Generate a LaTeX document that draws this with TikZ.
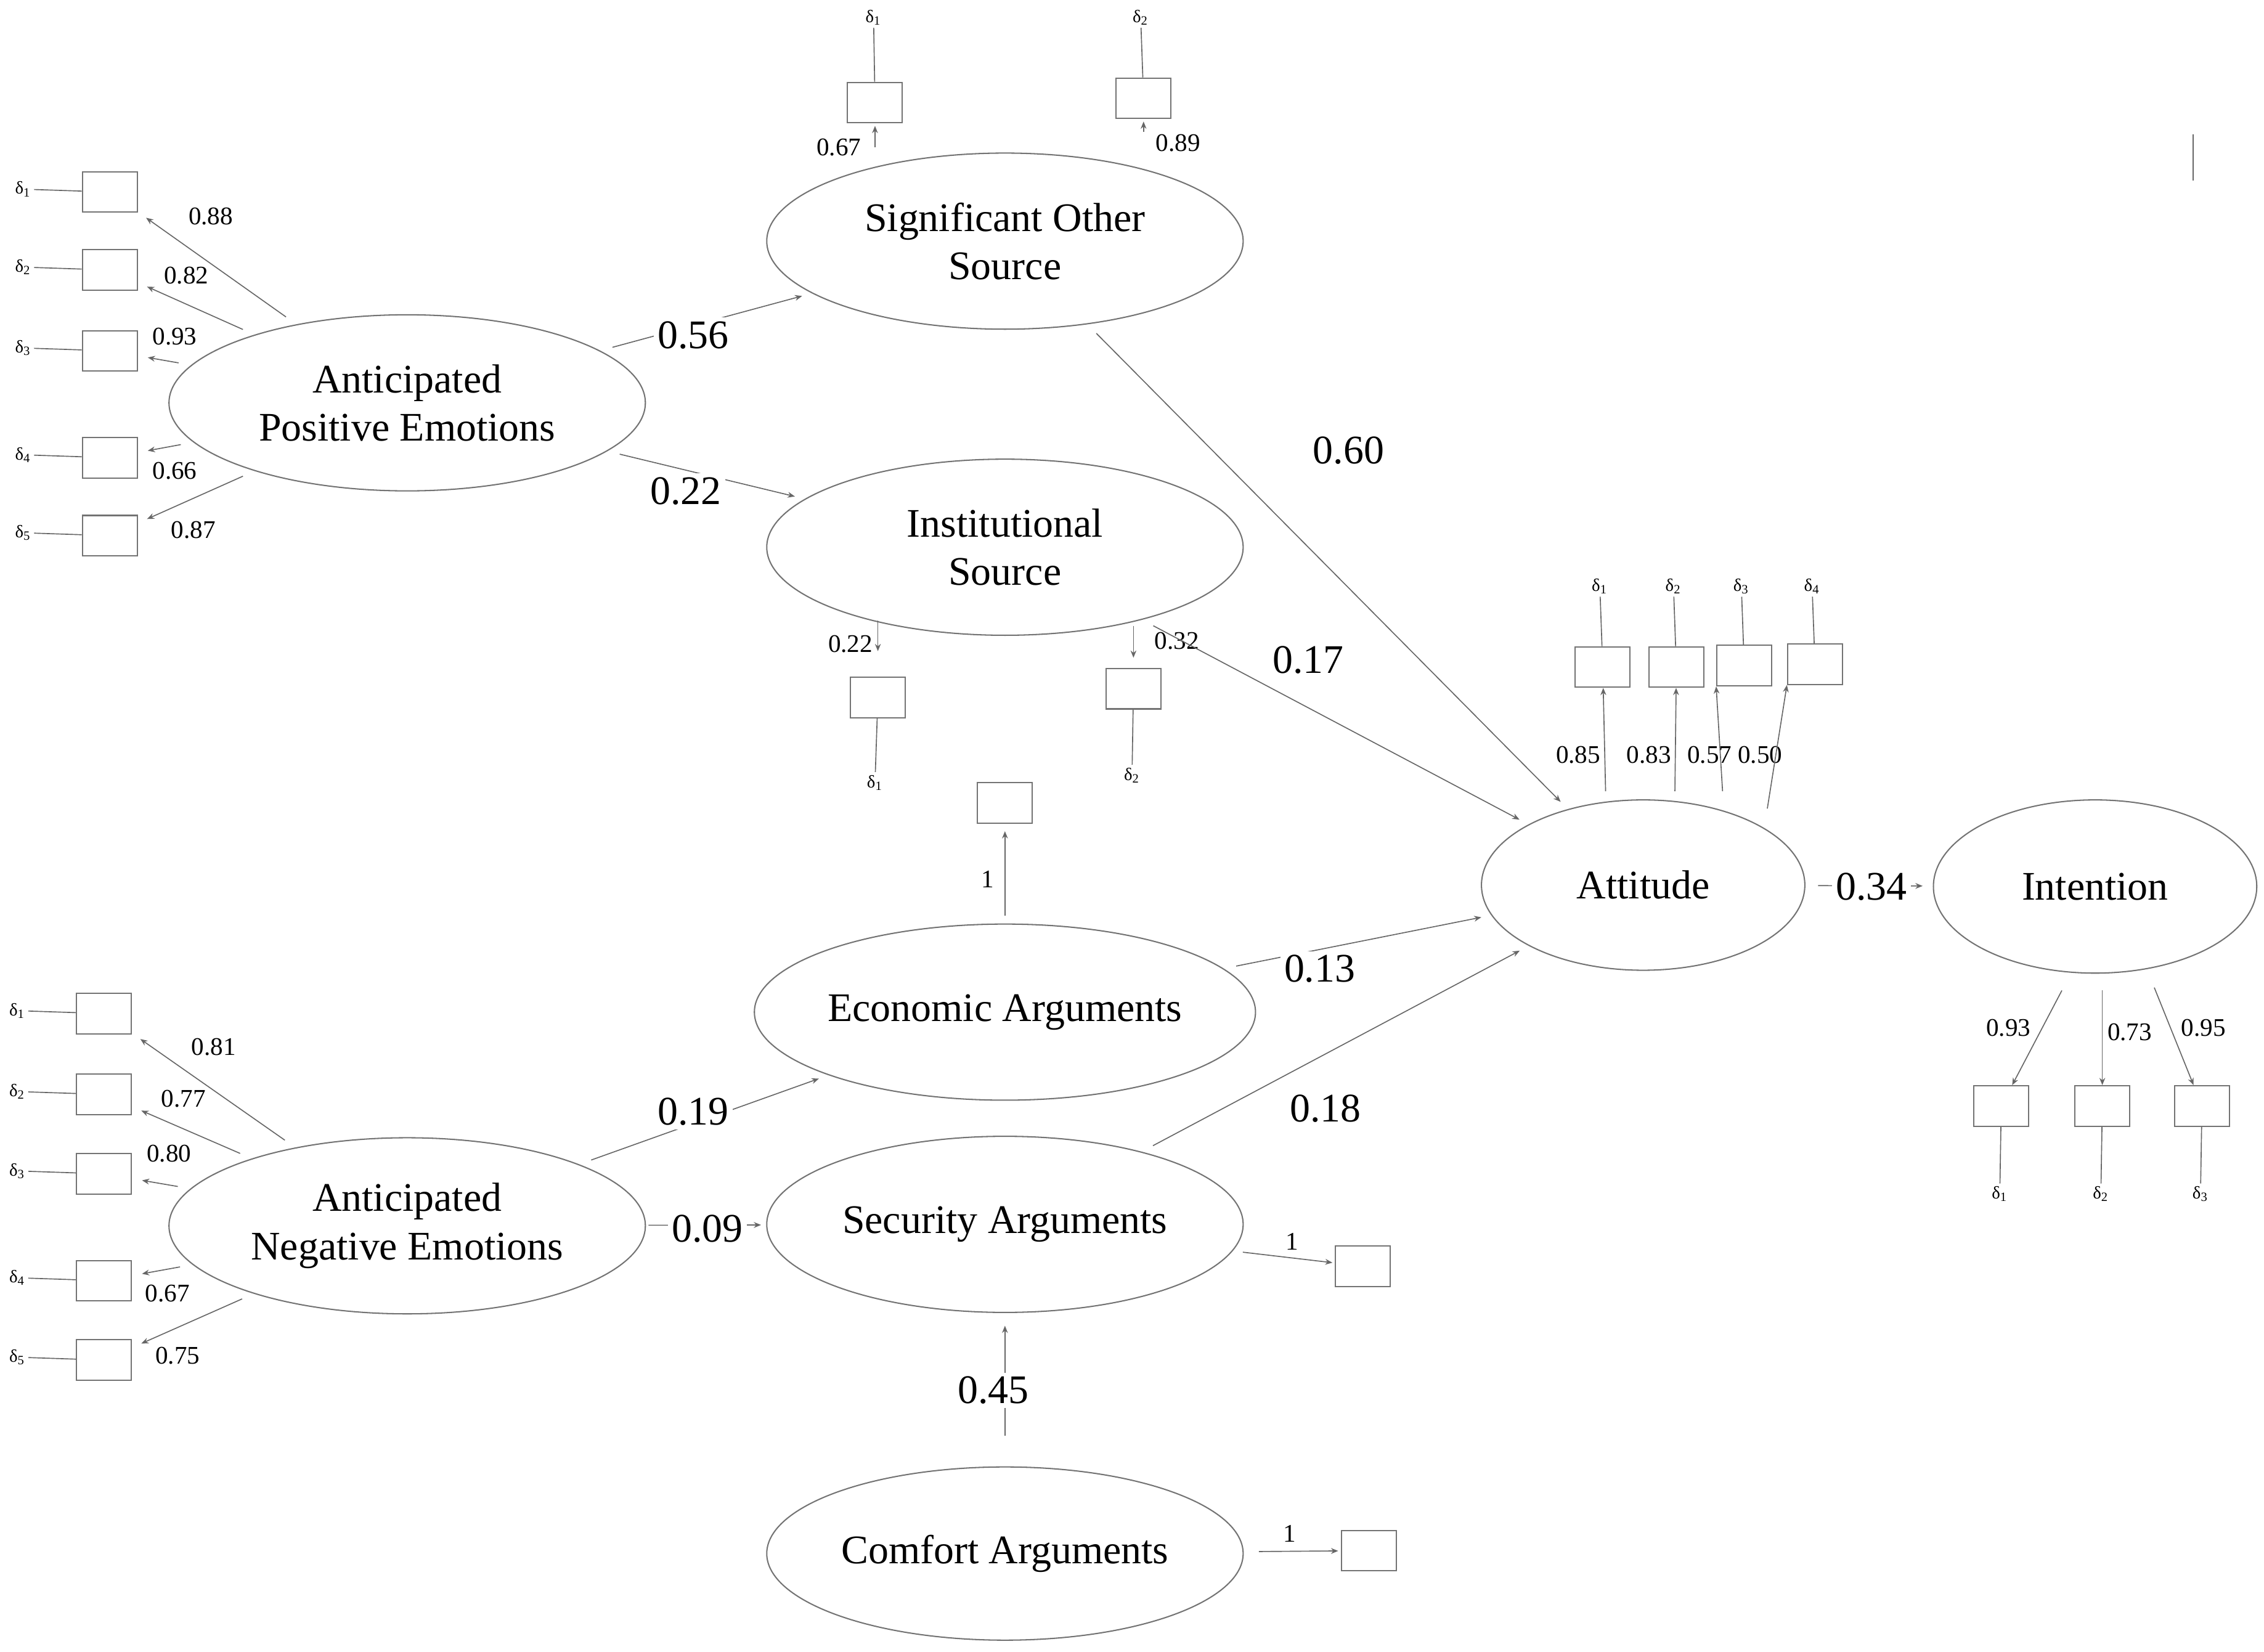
\documentclass[tikz,border=0pt]{standalone}
\usepackage{fontspec}
\setmainfont{Liberation Serif}
\usetikzlibrary{arrows.meta,shapes.geometric}
\begin{document}
\begin{tikzpicture}[x=0.02cm,y=-0.02cm,
  lat/.style={ellipse,draw=black!55,line width=0.5pt,minimum width=6.6cm,minimum height=2.44cm,align=center,font=\fontsize{16}{19}\selectfont,inner sep=0pt},
  box/.style={draw=black!55,line width=0.5pt,minimum width=0.76cm,minimum height=0.56cm,inner sep=0pt},
  dl/.style={font=\fontsize{7}{8}\selectfont,inner sep=1pt},
  sl/.style={font=\fontsize{10}{12}\selectfont,inner sep=1pt},
  bl/.style={font=\fontsize{16}{19}\selectfont,fill=white,inner sep=1.5pt},
  ln/.style={draw=black!60,line width=0.4pt},
  ar/.style={ln,-{Stealth[length=1mm,width=0.8mm]}},
  gap/.style={shorten <=5pt,shorten >=4pt}]
\useasboundingbox (0,0) rectangle (1568,1144);
% latent variables
\node[lat] (ape) at (282,279) {Anticipated\\Positive Emotions};
\node[lat] (sos) at (696,167) {Significant Other\\Source};
\node[lat] (ins) at (696,379) {Institutional\\Source};
\node[lat,minimum width=4.48cm,minimum height=2.36cm] (att) at (1138,613) {Attitude};
\node[lat,minimum width=4.48cm,minimum height=2.4cm] (int) at (1451,614) {Intention};
\node[lat] (eco) at (696,701) {Economic Arguments};
\node[lat] (ane) at (282,849) {Anticipated\\Negative Emotions};
\node[lat] (sec) at (696,848) {Security Arguments};
\node[lat,minimum height=2.4cm] (com) at (696,1076) {Comfort Arguments};
% APE indicators
\foreach \i/\y/\v/\lx/\ly in {1/133/0.88/146/150,2/187/0.82/129/191,3/243/0.93/121/233,4/317/0.66/121/326,5/371/0.87/134/367}{
  \node[box] (pb\i) at (76,\y) {};
  \node[dl] (pd\i) at (16,\y-2) {δ\textsubscript{\i}};
  \draw[ln] (pd\i) -- (pb\i);
  \draw[ar,gap] (ape) -- (pb\i);
  \node[sl] at (\lx,\ly) {\v};
}
% ANE indicators
\foreach \i/\y/\v/\lx/\ly in {1/702/0.81/148/725,2/758/0.77/127/761,3/813/0.80/117/799,4/887/0.67/116/896,5/942/0.75/123/939}{
  \node[box] (nb\i) at (72,\y) {};
  \node[dl] (nd\i) at (12,\y-2) {δ\textsubscript{\i}};
  \draw[ln] (nd\i) -- (nb\i);
  \draw[ar,gap] (ane) -- (nb\i);
  \node[sl] at (\lx,\ly) {\v};
}
% SOS indicators
\node[box] (sb1) at (606,71) {}; \node[dl] (sd1) at (605,12) {δ\textsubscript{1}};
\node[box] (sb2) at (792,68) {}; \node[dl] (sd2) at (790,12) {δ\textsubscript{2}};
\draw[ln] (sd1) -- (sb1); \draw[ln] (sd2) -- (sb2);
\draw[ar,shorten <=2pt,shorten >=1pt] (sos.north-|sb1) -- (sb1);
\draw[ar,shorten <=8pt,shorten >=1pt] (sos.north-|sb2) -- (sb2);
\node[sl] at (581,102) {0.67}; \node[sl] at (816,99) {0.89};
% IS indicators
\node[box] (ib1) at (608,483) {}; \node[dl] (id1) at (606,542) {δ\textsubscript{1}};
\node[box] (ib2) at (785,477) {}; \node[dl] (id2) at (784,537) {δ\textsubscript{2}};
\draw[ln] (id1) -- (ib1); \draw[ln] (id2) -- (ib2);
\draw[ar,shorten <=-6pt,shorten >=10pt] (ins.south-|ib1) -- (ib1);
\draw[ar,shorten <=-4pt,shorten >=4pt] (ins.south-|ib2) -- (ib2);
\node[sl] at (589,446) {0.22}; \node[sl] at (815,444) {0.32};
% Attitude indicators
\foreach \i/\x/\y/\v/\lx in {1/1110/462/0.85/1093,2/1161/462/0.83/1142,3/1208/461/0.57/1184,4/1257/460/0.50/1219}{
  \node[box] (ab\i) at (\x,\y) {};
  \node[dl] (ad\i) at (\x-2,406) {δ\textsubscript{\i}};
  \draw[ln] (ad\i) -- (ab\i);
  \node[sl] at (\lx,523) {\v};
}
\coordinate (a1) at (1112,548); \coordinate (a2) at (1160,548);
\coordinate (a3) at (1193,548); \coordinate (a4) at (1224,560);
\draw[ar] (a1) -- (ab1); \draw[ar] (a2) -- (ab2);
\draw[ar] (a3) -- (ab3.south west); \draw[ar] (a4) -- (ab4.south west);
% Intention indicators
\foreach \i/\x/\v/\lx/\ly in {1/1386/0.93/1391/712,2/1456/0.73/1475/715,3/1525/0.95/1526/712}{
  \node[box] (tb\i) at (\x,766) {};
  \node[dl] (td\i) at (\x-1,827) {δ\textsubscript{\i}};
  \draw[ln] (tb\i) -- (td\i);
  \node[sl] at (\lx,\ly) {\v};
}
\coordinate (t1) at (1428,686); \coordinate (t2) at (1456,686); \coordinate (t3) at (1492,684);
\draw[ar] (t1) -- (tb1); \draw[ar] (t2) -- (tb2); \draw[ar] (t3) -- (tb3);
% residual boxes
\node[box] (eb) at (696,556) {};
\draw[ar,shorten <=3pt,shorten >=3pt] (eco) -- (eb); \node[sl] at (684,609) {1};
\node[box] (secb) at (944,877) {};
\draw[ar,shorten <=4pt,shorten >=1pt] (sec) -- (secb); \node[sl] at (895,860) {1};
\node[box] (cb) at (948,1074) {};
\draw[ar,shorten <=6pt,shorten >=1pt] (com) -- (cb); \node[sl] at (893,1062) {1};
% structural paths
\draw[ar,gap] (ape) -- (sos);  \node[bl] at (480,232) {0.56};
\draw[ar,gap] (ape) -- (ins);  \node[bl] at (475,340) {0.22};
\draw[ar,gap] (sos) -- (att);  \node[bl] at (934,312) {0.60};
\draw[ar,gap] (ins) -- (att);  \node[bl] at (906,457) {0.17};
\draw[ar,gap] (eco) -- (att);  \node[bl] at (914,671) {0.13};
\draw[ar,gap] (sec) -- (att);  \node[bl] at (918,768) {0.18};
\draw[ar,gap] (att) -- (int);  \node[bl] at (1296,614) {0.34};
\draw[ar,gap] (ane) -- (eco);  \node[bl] at (480,770) {0.19};
\draw[ar,shorten <=1pt,shorten >=2pt] (ane) -- (sec);  \node[bl] at (490,851) {0.09};
\draw[ar,shorten <=12pt,shorten >=5pt] (com) -- (sec);  \node[bl] at (688,963) {0.45};
% stray mark
\coordinate (s1) at (1519,93); \coordinate (s2) at (1519,125);
\draw[ln] (s1) -- (s2);
\end{tikzpicture}
\end{document}
